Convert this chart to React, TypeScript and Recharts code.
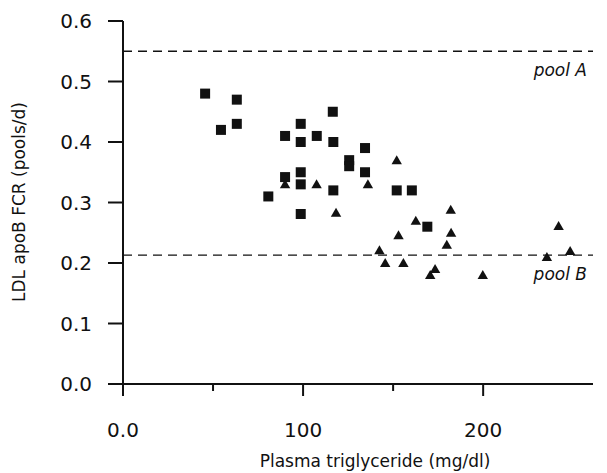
import { ScatterChart, Scatter, XAxis, YAxis, ReferenceLine } from 'recharts';

// plasma triglyceride (mg/dl) / LDL apoB FCR (pools/d)
const squareTg = [45.6, 54.4, 63.2, 63.2, 80.7, 90, 90, 98.7, 98.7, 98.7, 98.7, 98.7, 107.6, 116.5, 116.8, 116.8, 125.6, 125.6, 134.4, 134.4, 152, 160.4, 169];
const squareFcr = [0.48, 0.42, 0.47, 0.43, 0.31, 0.41, 0.342, 0.43, 0.4, 0.35, 0.33, 0.281, 0.41, 0.45, 0.4, 0.32, 0.37, 0.36, 0.39, 0.35, 0.32, 0.32, 0.26];

const triangleTg = [90, 107.5, 118.3, 136, 152, 142.4, 145.6, 153, 155.7, 162.6, 170.6, 173.3, 179.8, 182.2, 182, 199.8, 235.4, 241.9, 248.3];
const triangleFcr = [0.33, 0.33, 0.283, 0.33, 0.37, 0.221, 0.2, 0.246, 0.2, 0.27, 0.18, 0.19, 0.23, 0.25, 0.288, 0.18, 0.21, 0.261, 0.22];

const xTicks = [0, 50, 100, 150, 200];
const yTicks = [0, 0.1, 0.2, 0.3, 0.4, 0.5, 0.6];
const poolA = 0.55;
const poolB = 0.213;

const squares = squareTg.map((x, i) => ({ x, y: squareFcr[i] }));
const triangles = triangleTg.map((x, i) => ({ x, y: triangleFcr[i] }));

const font = '"DejaVu Sans", sans-serif';
const ink = '#111';

function XTick({ x, y, payload }: any) {
    const major = payload.value % 100 === 0;
    const label = payload.value === 0 ? '0.0' : String(payload.value);
    return (
        <g>
            <line x1={x} x2={x} y1={y} y2={y + (major ? 12 : 7)} stroke={ink} strokeWidth={2} />
            {major && (
                <text x={x} y={y + 53} textAnchor="middle" fontSize={20} fontFamily={font} fill={ink}>
                    {label}
                </text>
            )}
        </g>
    );
}

const poolLabel = (text: string) => (props: any) => {
    const vb = props.viewBox;
    return (
        <text x={vb.x + vb.width - 6} y={vb.y + 25} textAnchor="end" fontSize={17} fontStyle="italic" fontFamily={font} fill={ink}>
            {text}
        </text>
    );
};

const squareShape = ({ cx, cy }: any) => <rect x={cx - 5} y={cy - 5} width={10} height={10} fill={ink} />;
const triangleShape = ({ cx, cy }: any) => (
    <polygon points={`${cx - 5.2},${cy + 4} ${cx + 5.2},${cy + 4} ${cx},${cy - 5}`} fill={ink} />
);

export default function App() {
    return (
        <div style={{ position: 'absolute', left: 0, top: 0, width: 607, height: 473, background: '#fff' }}>
            <ScatterChart width={607} height={473} margin={{ top: 21, right: 14, left: 0, bottom: 0 }}>
                <XAxis
                    type="number"
                    dataKey="x"
                    domain={[0, 261]}
                    ticks={xTicks}
                    interval={0}
                    height={89}
                    tickSize={0}
                    tickMargin={0}
                    tickLine={false}
                    tick={<XTick />}
                    axisLine={{ stroke: ink, strokeWidth: 2 }}
                    label={{
                        content: () => (
                            <text x={375} y={467} textAnchor="middle" fontSize={17} fontFamily={font} fill={ink}>
                                Plasma triglyceride (mg/dl)
                            </text>
                        ),
                    }}
                />
                <YAxis
                    type="number"
                    dataKey="y"
                    domain={[0, 0.6]}
                    ticks={yTicks}
                    interval={0}
                    width={123}
                    tickSize={15}
                    tickMargin={16}
                    tickFormatter={(v: number) => v.toFixed(1)}
                    tick={{ fill: ink, fontSize: 20, fontFamily: font }}
                    tickLine={{ stroke: ink, strokeWidth: 2 }}
                    axisLine={{ stroke: ink, strokeWidth: 2 }}
                    label={{
                        content: () => (
                            <text x={19} y={202} transform="rotate(-90 19 202)" textAnchor="middle" dominantBaseline="central" fontSize={17} fontFamily={font} fill={ink}>
                                LDL apoB FCR (pools/d)
                            </text>
                        ),
                    }}
                />
                <ReferenceLine y={poolA} stroke={ink} strokeWidth={1.3} strokeDasharray="9 6" label={{ content: poolLabel('pool A') }} />
                <ReferenceLine y={poolB} stroke={ink} strokeWidth={1.3} strokeDasharray="9 6" label={{ content: poolLabel('pool B') }} />
                <Scatter data={squares} shape={squareShape} fill={ink} isAnimationActive={false} />
                <Scatter data={triangles} shape={triangleShape} fill={ink} isAnimationActive={false} />
            </ScatterChart>
        </div>
    );
}
